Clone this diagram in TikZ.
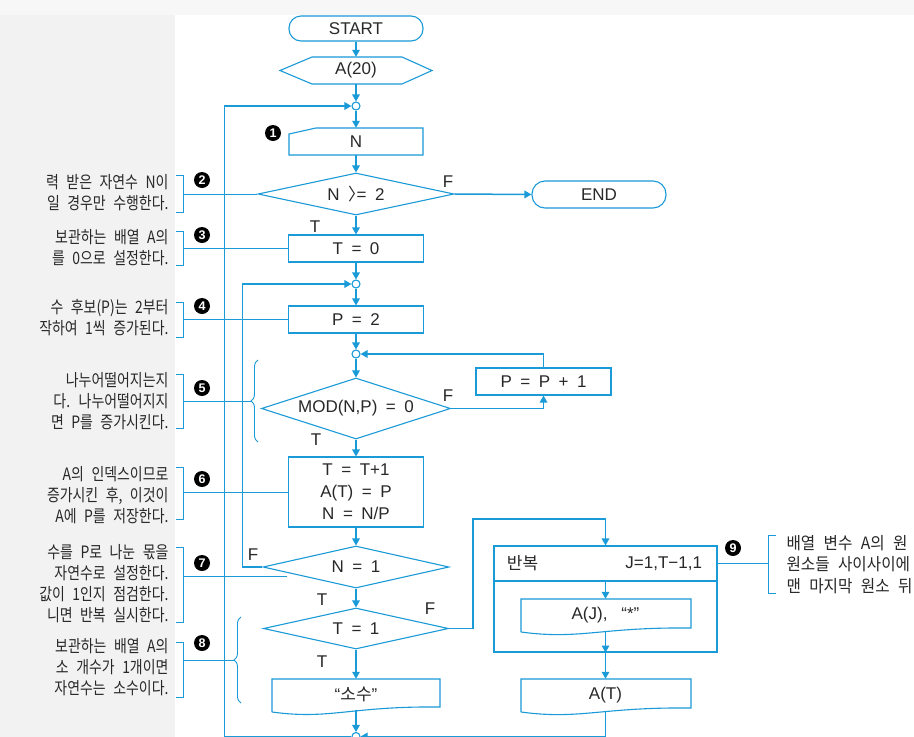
\documentclass[tikz,border=0pt]{standalone}
\usepackage{fontspec}
\setmainfont{Liberation Sans}[WordSpace=1.8]
\newfontfamily\kr{Noto Sans CJK KR}
\newfontfamily\krnote{Noto Sans CJK KR}[FakeStretch=0.82,WordSpace=2.4]
\newfontfamily\krside{Noto Sans CJK KR}[FakeStretch=0.92,WordSpace=2.4]
\usetikzlibrary{arrows.meta,shapes.geometric,decorations.pathreplacing}

\definecolor{flowblue}{RGB}{26,155,216}
\definecolor{ink}{RGB}{40,40,40}
\definecolor{notegray}{RGB}{242,242,243}
\definecolor{edgegray}{RGB}{247,247,247}

\begin{document}
\begin{tikzpicture}[x=1pt, y=-1pt,
	every node/.style={font=\fontsize{17}{22}\selectfont, text=ink},
	>={Triangle[length=7pt,width=7.5pt]},
	outline/.style={draw=flowblue, line width=1.1pt},
	flow/.style={draw=flowblue, line width=1.5pt},
	procbox/.style={outline, fill=white, rectangle, minimum width=135pt, minimum height=27pt, inner sep=0pt},
	holder/.style={rectangle, inner sep=0pt},
	terminal/.style={outline, fill=white, rectangle, rounded corners=12pt, minimum width=134pt, minimum height=25pt, inner sep=0pt},
	decision/.style={outline, fill=white, diamond, inner sep=0pt},
	joint/.style={outline, fill=white, circle, minimum size=8pt, inner sep=0pt},
	badge/.style={circle, fill=black, text=white, inner sep=0pt, minimum size=16pt, font=\fontsize{12.5}{12.5}\selectfont\bfseries},
	note/.style={anchor=east, align=right, font=\krnote\fontsize{17}{21}\selectfont},
	notebar/.style={draw=flowblue, line width=0.9pt}]
	\fill[edgegray] (0,0) rectangle (914,737);
	\fill[notegray] (0,15) rectangle (175,737);
	\fill[white] (175,15) rectangle (914,737);
	\useasboundingbox (0,0) rectangle (914,737);

	\node[terminal] (start) at (356,28.5) {START};
	\node[holder, minimum width=152pt, minimum height=27pt] (arr) at (356,70.5) {A(20)};
	\draw[outline] (280,70.5) -- (312,57) -- (402,57) -- (432,70.5) -- (402,84) -- (312,84) -- cycle;
	\node[joint] (j1) at (356,106) {};
	\node[holder, minimum width=134pt, minimum height=27pt] (readN) at (356,141.5) {N};
	\draw[outline] (289,134) -- (316,128) -- (423,128) -- (423,155) -- (289,155) -- cycle;
	\node[decision, minimum width=196pt, minimum height=42pt, aspect=4.6] (ifN) at (356,194) {N {\kr 〉}\kern-.5em= 2};
	\node[terminal, minimum height=27pt, rounded corners=13pt] (finish) at (599,194.5) {END};
	\node[procbox] (setT) at (356,248.5) {T = 0};
	\node[joint] (j2) at (356,284) {};
	\node[procbox] (setP) at (356,319.5) {P = 2};
	\node[joint] (j3) at (356,354) {};
	\node[decision, minimum width=189pt, minimum height=61pt, aspect=3.1] (ifMod) at (356,408.5) {MOD(N,P) = 0};
	\node[procbox] (incP) at (543.5,381.5) {P = P + 1};
	\node[procbox, minimum height=70pt, align=center] (store) at (356,492) {T = T+1\\A(T) = P\\N = N/P};
	\node[decision, minimum width=186pt, minimum height=42pt, aspect=4.4] (ifOne) at (356,567) {N = 1};
	\node[decision, minimum width=185pt, minimum height=41pt, aspect=4.5] (ifT) at (356,628.5) {T = 1};
	\node[holder, minimum width=168pt, minimum height=31pt] (prime) at (356,694.5) {“{\kr 소수}”};
	\draw[outline] (272,712) -- (272,679) -- (440,679) -- (440,707) .. controls (350,706) and (330,720) .. (272,712);

	\node[procbox, minimum width=223pt, minimum height=35pt] (loophead) at (605.5,563.5) {};
	\node[procbox, minimum width=223pt, minimum height=71pt] (loopbody) at (605.5,616.5) {};
	\node[anchor=west] (loopname) at ([xshift=10pt]loophead.west) {\kr 반복};
	\node[anchor=east] (looprange) at ([xshift=-12pt]loophead.east) {J=1,T−1,1};
	\node[holder, minimum width=170pt, minimum height=33pt] (outJ) at (605.5,615.5) {A(J),\hspace{14pt}“*”};
	\draw[outline] (521,632) -- (521,599) -- (691,599) -- (691,628) .. controls (600,627) and (580,640) .. (521,632);
	\node[holder, minimum width=170pt, minimum height=32pt] (outT) at (605.5,695) {A(T)};
	\draw[outline] (521,712) -- (521,679) -- (691,679) -- (691,708) .. controls (600,707) and (580,720) .. (521,712);
	\node[joint] (j4) at (356,736.5) {};

	\draw[flow,->] (start.south) -- (arr.north);
	\draw[flow,->] (arr.south) -- (j1);
	\draw[flow,->] (j1) -- (readN.north);
	\draw[flow,->] (readN.south) -- (ifN.north);
	\draw[flow,->] (ifN.east) -- (finish.west);
	\draw[flow,->] (ifN.south) -- (setT.north);
	\draw[flow,->] (setT) -- (j2);
	\draw[flow,->] (j2) -- (setP);
	\draw[flow,->] (setP) -- (j3);
	\draw[flow,->] (j3) -- (ifMod);
	\draw[flow,->] (ifMod.east) -| (incP.south);
	\draw[flow,->] (incP.north) |- (j3.east);
	\draw[flow,->] (ifMod) -- (store);
	\draw[flow,->] (store) -- (ifOne);
	\draw[flow,->] (ifOne.west) -- ++(-20,0) |- (j2.west);
	\draw[flow,->] (ifOne) -- (ifT);
	\draw[flow,->] (ifT.east) -- ++(24,0) -- ++(0,-109.5) -| (loophead.north);
	\draw[flow,->] (ifT) -- (prime);
	\draw[flow,->] (prime) -- (j4);
	\draw[flow,->] (loophead.south) -- (outJ.north);
	\draw[flow,->] (outJ.south) -- (loopbody.south);
	\draw[flow,->] (loopbody.south) -- (outT.north);
	\draw[flow,->] (outT.south) |- (j4.east);
	\draw[flow,->] (j4.west) -- ++(-127,0) |- (j1.west);

	\node (fN) at (448,182) {F};
	\node (tN) at (315,227) {T};
	\node (fMod) at (448,396) {F};
	\node (tMod) at (316,440) {T};
	\node (fOne) at (253,555) {F};
	\node (tOne) at (322,600) {T};
	\node (fT) at (430,609) {F};
	\node (tT) at (322,662) {T};

	\node[badge] (b1) at (273,133) {1};
	\node[badge] (b2) at (202,180) {2};
	\node[badge] (b3) at (202,235) {3};
	\node[badge] (b4) at (202,306) {4};
	\node[badge] (b5) at (202,388) {5};
	\node[badge] (b6) at (202,479) {6};
	\node[badge] (b7) at (202,563) {7};
	\node[badge] (b8) at (202,643) {8};
	\node[badge] (b9) at (733,548) {9};

	\begin{scope}
		\clip (27,0) rectangle (175,737);
		\node[note] (n2) at (172,192.5) {력 받은 자연수 N이\\일 경우만 수행한다.};
		\node[note] (n3) at (172,247.5) {보관하는 배열 A의\\를 0으로 설정한다.};
		\node[note] (n4) at (172,318) {수 후보(P)는 2부터\\작하여 1씩 증가된다.};
		\node[note] (n5) at (172,401.5) {나누어떨어지는지\\다. 나누어떨어지지\\면 P를 증가시킨다.};
		\node[note] (n6) at (172,495) {A의 인덱스이므로\\증가시킨 후, 이것이\\A에 P를 저장한다.};
		\node[note] (n7) at (172,584) {수를 P로 나눈 몫을\\자연수로 설정한다.\\값이 1인지 점검한다.\\니면 반복 실시한다.};
		\node[note] (n8) at (172,667) {보관하는 배열 A의\\소 개수가 1개이면\\자연수는 소수이다.};
	\end{scope}
	\begin{scope}
		\clip (776,0) rectangle (914,737);
		\node[note, anchor=west, align=left, font=\krside\fontsize{17}{21.5}\selectfont] (n9) at (783,564.5) {배열 변수 A의 원\\원소들 사이사이에\\맨 마지막 원소 뒤};
	\end{scope}

	\draw[notebar] (176,175) -- (183,175) -- (183,212) -- (176,212);
	\draw[notebar] (176,231) -- (183,231) -- (183,265) -- (176,265);
	\draw[notebar] (176,302) -- (183,302) -- (183,337) -- (176,337);
	\draw[notebar] (176,374) -- (183,374) -- (183,428) -- (176,428);
	\draw[notebar] (176,467) -- (183,467) -- (183,519) -- (176,519);
	\draw[notebar] (176,547) -- (183,547) -- (183,622) -- (176,622);
	\draw[notebar] (176,642) -- (183,642) -- (183,697) -- (176,697);
	\draw[notebar] (776,535) -- (768,535) -- (768,593) -- (776,593);
	\draw[notebar, decorate, decoration={brace, amplitude=7pt}] (258,442) -- (258,360);
	\draw[notebar, decorate, decoration={brace, amplitude=7pt, aspect=0.5}] (241,703) -- (241,617);
	\coordinate (k2) at (183,194);
	\coordinate (k3) at (183,248.5);
	\coordinate (k4) at (183,319.5);
	\coordinate (k5) at (183,401);
	\coordinate (k6) at (183,492);
	\coordinate (k7) at (183,576);
	\coordinate (k8) at (183,660);
	\coordinate (k9) at (768,563.5);
	\coordinate (brace5) at (251,401);
	\coordinate (brace8) at (234,660);
	\draw[notebar] (k2) -- (ifN.west);
	\draw[notebar] (k3) -- (setT.west);
	\draw[notebar] (k4) -- (setP.west);
	\draw[notebar] (k5) -- (brace5);
	\draw[notebar] (k6) -- (store.west);
	\draw[notebar] (k7) -- (287,576);
	\draw[notebar] (k8) -- (brace8);
	\draw[notebar] (loophead.east) -- (k9);
\end{tikzpicture}
\end{document}
